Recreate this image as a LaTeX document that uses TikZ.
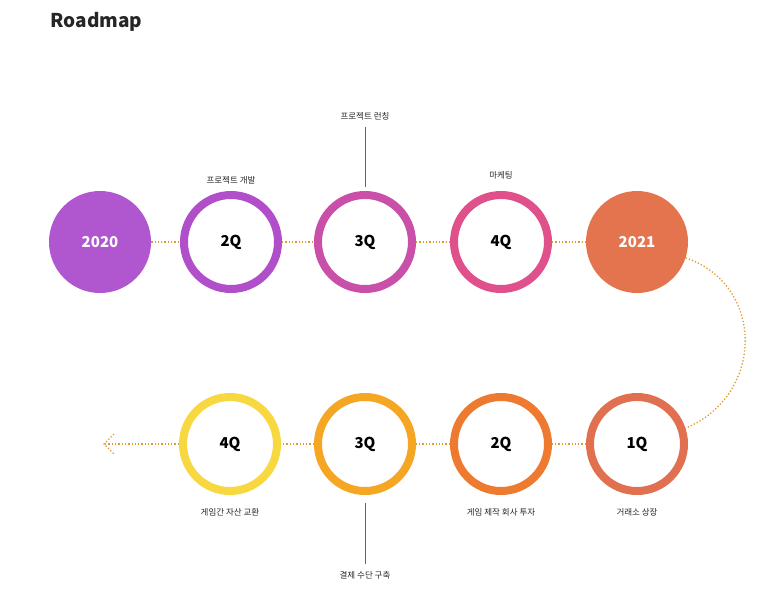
\documentclass[tikz,border=0pt]{standalone}
\usepackage{fontspec}
\setmainfont{Noto Sans CJK KR}
\usetikzlibrary{positioning}
\definecolor{dotline}{HTML}{E09A2C}
\definecolor{purpleA}{HTML}{B057D0}
\definecolor{purpleB}{HTML}{B04FC9}
\definecolor{magentaC}{HTML}{C94FA8}
\definecolor{pinkD}{HTML}{E0508A}
\definecolor{coralE}{HTML}{E4744E}
\definecolor{coralF}{HTML}{E07050}
\definecolor{orangeG}{HTML}{EE7A30}
\definecolor{amberH}{HTML}{F5A623}
\definecolor{yellowI}{HTML}{F8D840}
\tikzset{
  ring/.style={circle, draw=#1, line width=8pt, minimum size=94pt, inner sep=0pt, outer sep=4pt, fill=white, font=\bfseries\fontsize{15}{15}\selectfont},
  year/.style={circle, fill=#1, minimum size=102pt, inner sep=0pt, text=white, font=\bfseries\fontsize{15}{15}\selectfont},
  link/.style={dotline, dotted, line width=1.3pt},
  caption/.style={font=\fontsize{8.5}{9}\selectfont, text=black!85},
  stem/.style={draw=black!60, line width=0.6pt}
}
\begin{document}
\begin{tikzpicture}[x=1pt, y=-1pt]
\useasboundingbox (0,0) rectangle (773,590);
\node[anchor=west, font=\bfseries\fontsize{19}{19}\selectfont, text=black!85] (title) at (47,22) {Roadmap};

\coordinate (tip) at (104,444);

% first row
\node[year=purpleA] (y2020) at (100,242) {2020};
\node[ring=purpleB] (a2q) at (231,242) {2Q};
\node[ring=magentaC] (a3q) at (365,242) {3Q};
\node[ring=pinkD] (a4q) at (501,242) {4Q};
\node[year=coralE] (y2021) at (637,242) {2021};

% second row
\node[ring=coralF] (b1q) at (637,444) {1Q};
\node[ring=orangeG] (b2q) at (501,444) {2Q};
\node[ring=amberH] (b3q) at (365,444) {3Q};
\node[ring=yellowI] (b4q) at (230,444) {4Q};

% connectors
\draw[link] (y2020) -- (a2q);
\draw[link] (a2q) -- (a3q);
\draw[link] (a3q) -- (a4q);
\draw[link] (a4q) -- (y2021);
\draw[link] (y2021.-18) .. controls (765,285) and (765,395) .. (b1q.18);
\draw[link] (b1q) -- (b2q);
\draw[link] (b2q) -- (b3q);
\draw[link] (b3q) -- (b4q);
\draw[link] (b4q) -- (tip);
\draw[link] ([shift={(10,-10)}]tip) -- (tip) -- ([shift={(10,10)}]tip);

% captions
\node[caption] (c2q) at (231,180) {프로젝트 개발};
\node[caption] (c3q) at (365,116) {프로젝트 런칭};
\node[caption] (c4q) at (501,175) {마케팅};
\draw[stem] ([yshift=-4pt]c3q.south) -- ([yshift=4pt]a3q.north);
\node[caption] (d4q) at (230,512) {게임간 자산 교환};
\node[caption] (d3q) at (365,575) {결제 수단 구축};
\node[caption] (d2q) at (501,512) {게임 제작 회사 투자};
\node[caption] (d1q) at (637,512) {거래소 상장};
\draw[stem] ([yshift=-8pt]b3q.south) -- ([yshift=4pt]d3q.north);
\end{tikzpicture}
\end{document}
